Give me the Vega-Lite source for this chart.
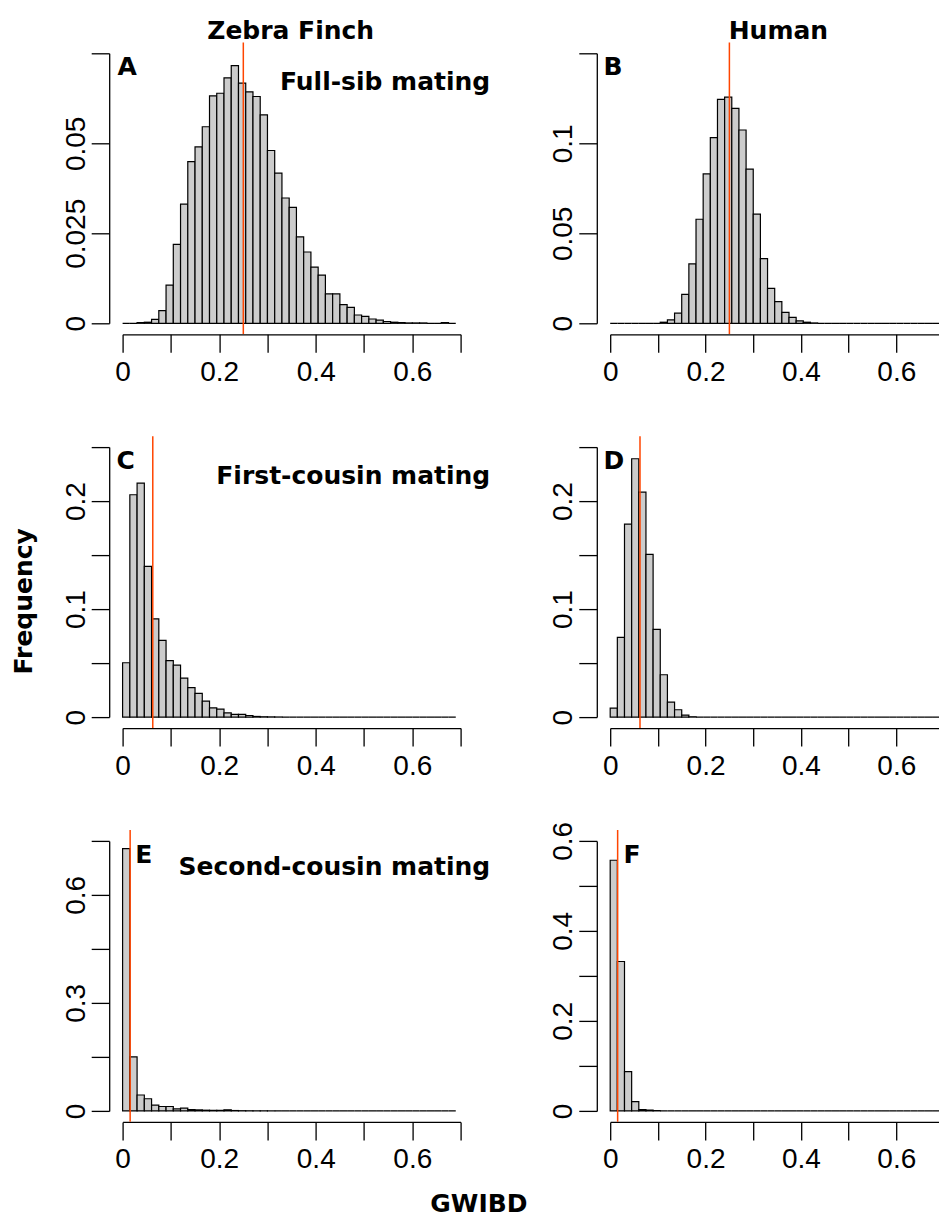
{
"$schema": "https://vega.github.io/schema/vega-lite/v6.json",
"autosize": {"type": "pad"},
"padding": {"left": 11.6, "top": 18.3, "right": 0, "bottom": 0},
"background": "#ffffff",
"config": {
 "view": {"stroke": null},
 "font": "Liberation Sans",
 "text": {"font": "DejaVu Sans", "fontWeight": "bold", "fontSize": 25, "color": "#000000", "baseline": "alphabetic", "clip": false},
 "axis": {"domainColor": "#000000", "domainWidth": 1.3, "tickColor": "#000000", "tickWidth": 1.3, "tickSize": 18, "labelFont": "Liberation Sans", "labelFontSize": 28, "labelColor": "#000000", "labelFlush": false, "labelOverlap": false, "grid": false, "titleFont": "DejaVu Sans", "titleFontSize": 25, "titleFontWeight": "bold", "titleColor": "#000000"},
 "axisX": {"offset": 11, "labelAngle": 0, "labelAlign": "center", "labelBaseline": "alphabetic", "labelPadding": 28},
 "axisY": {"offset": 13.4, "labelAngle": 270, "labelAlign": "center", "labelBaseline": "alphabetic", "labelPadding": 7}
},
"datasets": {
 "labels": [
  {"panel": "A", "species": "Zebra Finch", "letter": "A", "mating": "Full-sib mating", "expected_gwibd": 0.25},
  {"panel": "B", "species": "Human", "letter": "B", "mating": "", "expected_gwibd": 0.25},
  {"panel": "C", "species": "", "letter": "C", "mating": "First-cousin mating", "expected_gwibd": 0.0625},
  {"panel": "D", "species": "", "letter": "D", "mating": "", "expected_gwibd": 0.0625},
  {"panel": "E", "species": "", "letter": "E", "mating": "Second-cousin mating", "expected_gwibd": 0.015625},
  {"panel": "F", "species": "", "letter": "F", "mating": "", "expected_gwibd": 0.015625}
 ],
 "panelA": [
  {"bin_start":0,"bin_end":0.015,"frequency":0},{"bin_start":0.015,"bin_end":0.03,"frequency":0},{"bin_start":0.03,"bin_end":0.045,"frequency":0.0002},{"bin_start":0.045,"bin_end":0.06,"frequency":0.0003},{"bin_start":0.06,"bin_end":0.075,"frequency":0.0011},{"bin_start":0.075,"bin_end":0.09,"frequency":0.0035},{"bin_start":0.09,"bin_end":0.105,"frequency":0.0106},{"bin_start":0.105,"bin_end":0.12,"frequency":0.0219},{"bin_start":0.12,"bin_end":0.135,"frequency":0.0331},{"bin_start":0.135,"bin_end":0.15,"frequency":0.0449},{"bin_start":0.15,"bin_end":0.165,"frequency":0.049},{"bin_start":0.165,"bin_end":0.18,"frequency":0.0546},{"bin_start":0.18,"bin_end":0.195,"frequency":0.0632},{"bin_start":0.195,"bin_end":0.21,"frequency":0.0639},{"bin_start":0.21,"bin_end":0.225,"frequency":0.0682},{"bin_start":0.225,"bin_end":0.24,"frequency":0.0716},{"bin_start":0.24,"bin_end":0.255,"frequency":0.0667},{"bin_start":0.255,"bin_end":0.27,"frequency":0.0643},{"bin_start":0.27,"bin_end":0.285,"frequency":0.063},{"bin_start":0.285,"bin_end":0.3,"frequency":0.0579},{"bin_start":0.3,"bin_end":0.315,"frequency":0.048},{"bin_start":0.315,"bin_end":0.33,"frequency":0.0417},{"bin_start":0.33,"bin_end":0.345,"frequency":0.0348},{"bin_start":0.345,"bin_end":0.36,"frequency":0.0322},{"bin_start":0.36,"bin_end":0.375,"frequency":0.024},{"bin_start":0.375,"bin_end":0.39,"frequency":0.0198},{"bin_start":0.39,"bin_end":0.405,"frequency":0.0156},{"bin_start":0.405,"bin_end":0.42,"frequency":0.0134},{"bin_start":0.42,"bin_end":0.435,"frequency":0.0082},{"bin_start":0.435,"bin_end":0.45,"frequency":0.0082},{"bin_start":0.45,"bin_end":0.465,"frequency":0.0052},{"bin_start":0.465,"bin_end":0.48,"frequency":0.0044},{"bin_start":0.48,"bin_end":0.495,"frequency":0.0023},{"bin_start":0.495,"bin_end":0.51,"frequency":0.0019},{"bin_start":0.51,"bin_end":0.525,"frequency":0.0012},{"bin_start":0.525,"bin_end":0.54,"frequency":0.0009},{"bin_start":0.54,"bin_end":0.555,"frequency":0.0005},{"bin_start":0.555,"bin_end":0.57,"frequency":0.0003},{"bin_start":0.57,"bin_end":0.585,"frequency":0.0002},{"bin_start":0.585,"bin_end":0.6,"frequency":0.0001},{"bin_start":0.6,"bin_end":0.615,"frequency":0.0001},{"bin_start":0.615,"bin_end":0.63,"frequency":0.0001},{"bin_start":0.63,"bin_end":0.645,"frequency":0},{"bin_start":0.645,"bin_end":0.66,"frequency":0},{"bin_start":0.66,"bin_end":0.675,"frequency":0.0002},{"bin_start":0.675,"bin_end":0.69,"frequency":0}
 ],
 "panelB": [
  {"bin_start":0,"bin_end":0.015,"frequency":0},{"bin_start":0.015,"bin_end":0.03,"frequency":0},{"bin_start":0.03,"bin_end":0.045,"frequency":0},{"bin_start":0.045,"bin_end":0.06,"frequency":0},{"bin_start":0.06,"bin_end":0.075,"frequency":0},{"bin_start":0.075,"bin_end":0.09,"frequency":0},{"bin_start":0.09,"bin_end":0.105,"frequency":0},{"bin_start":0.105,"bin_end":0.12,"frequency":0.0006},{"bin_start":0.12,"bin_end":0.135,"frequency":0.0019},{"bin_start":0.135,"bin_end":0.15,"frequency":0.0056},{"bin_start":0.15,"bin_end":0.165,"frequency":0.0161},{"bin_start":0.165,"bin_end":0.18,"frequency":0.033},{"bin_start":0.18,"bin_end":0.195,"frequency":0.0578},{"bin_start":0.195,"bin_end":0.21,"frequency":0.083},{"bin_start":0.21,"bin_end":0.225,"frequency":0.1031},{"bin_start":0.225,"bin_end":0.24,"frequency":0.1244},{"bin_start":0.24,"bin_end":0.255,"frequency":0.1256},{"bin_start":0.255,"bin_end":0.27,"frequency":0.1194},{"bin_start":0.27,"bin_end":0.285,"frequency":0.1074},{"bin_start":0.285,"bin_end":0.3,"frequency":0.0857},{"bin_start":0.3,"bin_end":0.315,"frequency":0.0606},{"bin_start":0.315,"bin_end":0.33,"frequency":0.0359},{"bin_start":0.33,"bin_end":0.345,"frequency":0.0194},{"bin_start":0.345,"bin_end":0.36,"frequency":0.012},{"bin_start":0.36,"bin_end":0.375,"frequency":0.0061},{"bin_start":0.375,"bin_end":0.39,"frequency":0.0033},{"bin_start":0.39,"bin_end":0.405,"frequency":0.0013},{"bin_start":0.405,"bin_end":0.42,"frequency":0.0006},{"bin_start":0.42,"bin_end":0.435,"frequency":0.0002},{"bin_start":0.435,"bin_end":0.45,"frequency":0},{"bin_start":0.45,"bin_end":0.465,"frequency":0},{"bin_start":0.465,"bin_end":0.48,"frequency":0},{"bin_start":0.48,"bin_end":0.495,"frequency":0},{"bin_start":0.495,"bin_end":0.51,"frequency":0},{"bin_start":0.51,"bin_end":0.525,"frequency":0},{"bin_start":0.525,"bin_end":0.54,"frequency":0},{"bin_start":0.54,"bin_end":0.555,"frequency":0},{"bin_start":0.555,"bin_end":0.57,"frequency":0},{"bin_start":0.57,"bin_end":0.585,"frequency":0},{"bin_start":0.585,"bin_end":0.6,"frequency":0},{"bin_start":0.6,"bin_end":0.615,"frequency":0},{"bin_start":0.615,"bin_end":0.63,"frequency":0},{"bin_start":0.63,"bin_end":0.645,"frequency":0},{"bin_start":0.645,"bin_end":0.66,"frequency":0},{"bin_start":0.66,"bin_end":0.675,"frequency":0},{"bin_start":0.675,"bin_end":0.69,"frequency":0}
 ],
 "panelC": [
  {"bin_start":0,"bin_end":0.015,"frequency":0.0503},{"bin_start":0.015,"bin_end":0.03,"frequency":0.2059},{"bin_start":0.03,"bin_end":0.045,"frequency":0.2167},{"bin_start":0.045,"bin_end":0.06,"frequency":0.1395},{"bin_start":0.06,"bin_end":0.075,"frequency":0.091},{"bin_start":0.075,"bin_end":0.09,"frequency":0.071},{"bin_start":0.09,"bin_end":0.105,"frequency":0.0522},{"bin_start":0.105,"bin_end":0.12,"frequency":0.0481},{"bin_start":0.12,"bin_end":0.135,"frequency":0.0361},{"bin_start":0.135,"bin_end":0.15,"frequency":0.0272},{"bin_start":0.15,"bin_end":0.165,"frequency":0.0219},{"bin_start":0.165,"bin_end":0.18,"frequency":0.0148},{"bin_start":0.18,"bin_end":0.195,"frequency":0.0086},{"bin_start":0.195,"bin_end":0.21,"frequency":0.0074},{"bin_start":0.21,"bin_end":0.225,"frequency":0.004},{"bin_start":0.225,"bin_end":0.24,"frequency":0.0025},{"bin_start":0.24,"bin_end":0.255,"frequency":0.0025},{"bin_start":0.255,"bin_end":0.27,"frequency":0.0015},{"bin_start":0.27,"bin_end":0.285,"frequency":0.0006},{"bin_start":0.285,"bin_end":0.3,"frequency":0.0003},{"bin_start":0.3,"bin_end":0.315,"frequency":0.0002},{"bin_start":0.315,"bin_end":0.33,"frequency":0.0001},{"bin_start":0.33,"bin_end":0.345,"frequency":0},{"bin_start":0.345,"bin_end":0.36,"frequency":0},{"bin_start":0.36,"bin_end":0.375,"frequency":0},{"bin_start":0.375,"bin_end":0.39,"frequency":0},{"bin_start":0.39,"bin_end":0.405,"frequency":0},{"bin_start":0.405,"bin_end":0.42,"frequency":0},{"bin_start":0.42,"bin_end":0.435,"frequency":0},{"bin_start":0.435,"bin_end":0.45,"frequency":0},{"bin_start":0.45,"bin_end":0.465,"frequency":0},{"bin_start":0.465,"bin_end":0.48,"frequency":0},{"bin_start":0.48,"bin_end":0.495,"frequency":0},{"bin_start":0.495,"bin_end":0.51,"frequency":0},{"bin_start":0.51,"bin_end":0.525,"frequency":0},{"bin_start":0.525,"bin_end":0.54,"frequency":0},{"bin_start":0.54,"bin_end":0.555,"frequency":0},{"bin_start":0.555,"bin_end":0.57,"frequency":0},{"bin_start":0.57,"bin_end":0.585,"frequency":0},{"bin_start":0.585,"bin_end":0.6,"frequency":0},{"bin_start":0.6,"bin_end":0.615,"frequency":0},{"bin_start":0.615,"bin_end":0.63,"frequency":0},{"bin_start":0.63,"bin_end":0.645,"frequency":0},{"bin_start":0.645,"bin_end":0.66,"frequency":0},{"bin_start":0.66,"bin_end":0.675,"frequency":0},{"bin_start":0.675,"bin_end":0.69,"frequency":0}
 ],
 "panelD": [
  {"bin_start":0,"bin_end":0.015,"frequency":0.0083},{"bin_start":0.015,"bin_end":0.03,"frequency":0.0738},{"bin_start":0.03,"bin_end":0.045,"frequency":0.1787},{"bin_start":0.045,"bin_end":0.06,"frequency":0.2392},{"bin_start":0.06,"bin_end":0.075,"frequency":0.2083},{"bin_start":0.075,"bin_end":0.09,"frequency":0.1506},{"bin_start":0.09,"bin_end":0.105,"frequency":0.0812},{"bin_start":0.105,"bin_end":0.12,"frequency":0.0392},{"bin_start":0.12,"bin_end":0.135,"frequency":0.0139},{"bin_start":0.135,"bin_end":0.15,"frequency":0.0068},{"bin_start":0.15,"bin_end":0.165,"frequency":0.0019},{"bin_start":0.165,"bin_end":0.18,"frequency":0.0003},{"bin_start":0.18,"bin_end":0.195,"frequency":0},{"bin_start":0.195,"bin_end":0.21,"frequency":0},{"bin_start":0.21,"bin_end":0.225,"frequency":0},{"bin_start":0.225,"bin_end":0.24,"frequency":0},{"bin_start":0.24,"bin_end":0.255,"frequency":0},{"bin_start":0.255,"bin_end":0.27,"frequency":0},{"bin_start":0.27,"bin_end":0.285,"frequency":0},{"bin_start":0.285,"bin_end":0.3,"frequency":0},{"bin_start":0.3,"bin_end":0.315,"frequency":0},{"bin_start":0.315,"bin_end":0.33,"frequency":0},{"bin_start":0.33,"bin_end":0.345,"frequency":0},{"bin_start":0.345,"bin_end":0.36,"frequency":0},{"bin_start":0.36,"bin_end":0.375,"frequency":0},{"bin_start":0.375,"bin_end":0.39,"frequency":0},{"bin_start":0.39,"bin_end":0.405,"frequency":0},{"bin_start":0.405,"bin_end":0.42,"frequency":0},{"bin_start":0.42,"bin_end":0.435,"frequency":0},{"bin_start":0.435,"bin_end":0.45,"frequency":0},{"bin_start":0.45,"bin_end":0.465,"frequency":0},{"bin_start":0.465,"bin_end":0.48,"frequency":0},{"bin_start":0.48,"bin_end":0.495,"frequency":0},{"bin_start":0.495,"bin_end":0.51,"frequency":0},{"bin_start":0.51,"bin_end":0.525,"frequency":0},{"bin_start":0.525,"bin_end":0.54,"frequency":0},{"bin_start":0.54,"bin_end":0.555,"frequency":0},{"bin_start":0.555,"bin_end":0.57,"frequency":0},{"bin_start":0.57,"bin_end":0.585,"frequency":0},{"bin_start":0.585,"bin_end":0.6,"frequency":0},{"bin_start":0.6,"bin_end":0.615,"frequency":0},{"bin_start":0.615,"bin_end":0.63,"frequency":0},{"bin_start":0.63,"bin_end":0.645,"frequency":0},{"bin_start":0.645,"bin_end":0.66,"frequency":0},{"bin_start":0.66,"bin_end":0.675,"frequency":0},{"bin_start":0.675,"bin_end":0.69,"frequency":0}
 ],
 "panelE": [
  {"bin_start":0,"bin_end":0.015,"frequency":0.7284},{"bin_start":0.015,"bin_end":0.03,"frequency":0.15},{"bin_start":0.03,"bin_end":0.045,"frequency":0.0441},{"bin_start":0.045,"bin_end":0.06,"frequency":0.0338},{"bin_start":0.06,"bin_end":0.075,"frequency":0.0159},{"bin_start":0.075,"bin_end":0.09,"frequency":0.0122},{"bin_start":0.09,"bin_end":0.105,"frequency":0.0122},{"bin_start":0.105,"bin_end":0.12,"frequency":0.0056},{"bin_start":0.12,"bin_end":0.135,"frequency":0.0075},{"bin_start":0.135,"bin_end":0.15,"frequency":0.0038},{"bin_start":0.15,"bin_end":0.165,"frequency":0.0028},{"bin_start":0.165,"bin_end":0.18,"frequency":0.0019},{"bin_start":0.18,"bin_end":0.195,"frequency":0.0015},{"bin_start":0.195,"bin_end":0.21,"frequency":0.0015},{"bin_start":0.21,"bin_end":0.225,"frequency":0.003},{"bin_start":0.225,"bin_end":0.24,"frequency":0.001},{"bin_start":0.24,"bin_end":0.255,"frequency":0.0005},{"bin_start":0.255,"bin_end":0.27,"frequency":0.0003},{"bin_start":0.27,"bin_end":0.285,"frequency":0.0002},{"bin_start":0.285,"bin_end":0.3,"frequency":0.0002},{"bin_start":0.3,"bin_end":0.315,"frequency":0.0001},{"bin_start":0.315,"bin_end":0.33,"frequency":0},{"bin_start":0.33,"bin_end":0.345,"frequency":0},{"bin_start":0.345,"bin_end":0.36,"frequency":0},{"bin_start":0.36,"bin_end":0.375,"frequency":0},{"bin_start":0.375,"bin_end":0.39,"frequency":0},{"bin_start":0.39,"bin_end":0.405,"frequency":0},{"bin_start":0.405,"bin_end":0.42,"frequency":0},{"bin_start":0.42,"bin_end":0.435,"frequency":0},{"bin_start":0.435,"bin_end":0.45,"frequency":0},{"bin_start":0.45,"bin_end":0.465,"frequency":0},{"bin_start":0.465,"bin_end":0.48,"frequency":0},{"bin_start":0.48,"bin_end":0.495,"frequency":0},{"bin_start":0.495,"bin_end":0.51,"frequency":0},{"bin_start":0.51,"bin_end":0.525,"frequency":0},{"bin_start":0.525,"bin_end":0.54,"frequency":0},{"bin_start":0.54,"bin_end":0.555,"frequency":0},{"bin_start":0.555,"bin_end":0.57,"frequency":0},{"bin_start":0.57,"bin_end":0.585,"frequency":0},{"bin_start":0.585,"bin_end":0.6,"frequency":0},{"bin_start":0.6,"bin_end":0.615,"frequency":0},{"bin_start":0.615,"bin_end":0.63,"frequency":0},{"bin_start":0.63,"bin_end":0.645,"frequency":0},{"bin_start":0.645,"bin_end":0.66,"frequency":0},{"bin_start":0.66,"bin_end":0.675,"frequency":0},{"bin_start":0.675,"bin_end":0.69,"frequency":0}
 ],
 "panelF": [
  {"bin_start":0,"bin_end":0.015,"frequency":0.557},{"bin_start":0.015,"bin_end":0.03,"frequency":0.332},{"bin_start":0.03,"bin_end":0.045,"frequency":0.0874},{"bin_start":0.045,"bin_end":0.06,"frequency":0.0207},{"bin_start":0.06,"bin_end":0.075,"frequency":0.003},{"bin_start":0.075,"bin_end":0.09,"frequency":0.0015},{"bin_start":0.09,"bin_end":0.105,"frequency":0.0005},{"bin_start":0.105,"bin_end":0.12,"frequency":0},{"bin_start":0.12,"bin_end":0.135,"frequency":0},{"bin_start":0.135,"bin_end":0.15,"frequency":0},{"bin_start":0.15,"bin_end":0.165,"frequency":0},{"bin_start":0.165,"bin_end":0.18,"frequency":0},{"bin_start":0.18,"bin_end":0.195,"frequency":0},{"bin_start":0.195,"bin_end":0.21,"frequency":0},{"bin_start":0.21,"bin_end":0.225,"frequency":0},{"bin_start":0.225,"bin_end":0.24,"frequency":0},{"bin_start":0.24,"bin_end":0.255,"frequency":0},{"bin_start":0.255,"bin_end":0.27,"frequency":0},{"bin_start":0.27,"bin_end":0.285,"frequency":0},{"bin_start":0.285,"bin_end":0.3,"frequency":0},{"bin_start":0.3,"bin_end":0.315,"frequency":0},{"bin_start":0.315,"bin_end":0.33,"frequency":0},{"bin_start":0.33,"bin_end":0.345,"frequency":0},{"bin_start":0.345,"bin_end":0.36,"frequency":0},{"bin_start":0.36,"bin_end":0.375,"frequency":0},{"bin_start":0.375,"bin_end":0.39,"frequency":0},{"bin_start":0.39,"bin_end":0.405,"frequency":0},{"bin_start":0.405,"bin_end":0.42,"frequency":0},{"bin_start":0.42,"bin_end":0.435,"frequency":0},{"bin_start":0.435,"bin_end":0.45,"frequency":0},{"bin_start":0.45,"bin_end":0.465,"frequency":0},{"bin_start":0.465,"bin_end":0.48,"frequency":0},{"bin_start":0.48,"bin_end":0.495,"frequency":0},{"bin_start":0.495,"bin_end":0.51,"frequency":0},{"bin_start":0.51,"bin_end":0.525,"frequency":0},{"bin_start":0.525,"bin_end":0.54,"frequency":0},{"bin_start":0.54,"bin_end":0.555,"frequency":0},{"bin_start":0.555,"bin_end":0.57,"frequency":0},{"bin_start":0.57,"bin_end":0.585,"frequency":0},{"bin_start":0.585,"bin_end":0.6,"frequency":0},{"bin_start":0.6,"bin_end":0.615,"frequency":0},{"bin_start":0.615,"bin_end":0.63,"frequency":0},{"bin_start":0.63,"bin_end":0.645,"frequency":0},{"bin_start":0.645,"bin_end":0.66,"frequency":0},{"bin_start":0.66,"bin_end":0.675,"frequency":0},{"bin_start":0.675,"bin_end":0.69,"frequency":0}
 ]
},
"columns": 2,
"spacing": {"row": 123.8, "column": 149.6},
"bounds": "flush",
"concat": [
  {"width": 338, "height": 270,
   "layer": [
    {"data": {"name": "panelA"},
     "mark": {"type": "rect", "fill": "#cccccc", "stroke": "#000000", "strokeWidth": 1.2},
     "encoding": {
      "x": {"field": "bin_start", "type": "quantitative", "scale": {"domain": [0, 0.7], "nice": false, "zero": false}, "axis": {"values": [0,0.1,0.2,0.3,0.4,0.5,0.6,0.7], "labelExpr": "round(datum.value*10) % 2 == 0 ? format(datum.value, '~g') : ''", "title": null}},
      "x2": {"field": "bin_end"},
      "y": {"field": "frequency", "type": "quantitative", "scale": {"domain": [0, 0.075], "nice": false, "zero": false}, "axis": {"values": [0,0.025,0.05,0.075], "labelExpr": "datum.value < 0.07 ? format(datum.value, '~g') : ''", "title": null}},
      "y2": {"datum": 0}}},
    {"data": {"name": "labels"}, "transform": [{"filter": "datum.panel == 'A'"}],
     "mark": {"type": "rule", "color": "#ff4500", "strokeWidth": 1.5, "clip": false},
     "encoding": {"x": {"field": "expected_gwibd", "type": "quantitative"}, "y": {"datum": -0.003}, "y2": {"datum": 0.078}}},
    {"data": {"name": "labels"}, "transform": [{"filter": "datum.panel == 'A'"}],
     "mark": {"type": "text", "align": "center", "dx": -0.9, "dy": -14.7},
     "encoding": {"x": {"datum": 0.35}, "y": {"datum": 0.075}, "text": {"field": "species"}}},
    {"data": {"name": "labels"}, "transform": [{"filter": "datum.panel == 'A'"}],
     "mark": {"type": "text", "align": "left", "dx": -5, "dy": 22},
     "encoding": {"x": {"datum": 0}, "y": {"datum": 0.075}, "text": {"field": "letter"}}},
    {"data": {"name": "labels"}, "transform": [{"filter": "datum.panel == 'A'"}],
     "mark": {"type": "text", "align": "right", "dx": 29.6, "dy": 36.3},
     "encoding": {"x": {"datum": 0.7}, "y": {"datum": 0.075}, "text": {"field": "mating"}}}
   ]},
  {"width": 329, "height": 270,
   "layer": [
    {"data": {"name": "panelB"},
     "mark": {"type": "rect", "fill": "#cccccc", "stroke": "#000000", "strokeWidth": 1.2},
     "encoding": {
      "x": {"field": "bin_start", "type": "quantitative", "scale": {"domain": [0, 0.69], "nice": false, "zero": false}, "axis": {"values": [0,0.1,0.2,0.3,0.4,0.5,0.6], "labelExpr": "round(datum.value*10) % 2 == 0 ? format(datum.value, '~g') : ''", "title": null}},
      "x2": {"field": "bin_end"},
      "y": {"field": "frequency", "type": "quantitative", "scale": {"domain": [0, 0.15], "nice": false, "zero": false}, "axis": {"values": [0,0.05,0.1,0.15], "labelExpr": "datum.value < 0.12 ? format(datum.value, '~g') : ''", "title": null}},
      "y2": {"datum": 0}}},
    {"data": {"name": "labels"}, "transform": [{"filter": "datum.panel == 'B'"}],
     "mark": {"type": "rule", "color": "#ff4500", "strokeWidth": 1.5, "clip": false},
     "encoding": {"x": {"field": "expected_gwibd", "type": "quantitative"}, "y": {"datum": -0.006}, "y2": {"datum": 0.156}}},
    {"data": {"name": "labels"}, "transform": [{"filter": "datum.panel == 'B'"}],
     "mark": {"type": "text", "align": "center", "dx": 3.7, "dy": -14.7},
     "encoding": {"x": {"datum": 0.345}, "y": {"datum": 0.15}, "text": {"field": "species"}}},
    {"data": {"name": "labels"}, "transform": [{"filter": "datum.panel == 'B'"}],
     "mark": {"type": "text", "align": "left", "dx": -6.6, "dy": 22},
     "encoding": {"x": {"datum": 0}, "y": {"datum": 0.15}, "text": {"field": "letter"}}}
   ]},
  {"width": 338, "height": 270,
   "layer": [
    {"data": {"name": "panelC"},
     "mark": {"type": "rect", "fill": "#cccccc", "stroke": "#000000", "strokeWidth": 1.2},
     "encoding": {
      "x": {"field": "bin_start", "type": "quantitative", "scale": {"domain": [0, 0.7], "nice": false, "zero": false}, "axis": {"values": [0,0.1,0.2,0.3,0.4,0.5,0.6,0.7], "labelExpr": "round(datum.value*10) % 2 == 0 ? format(datum.value, '~g') : ''", "title": null}},
      "x2": {"field": "bin_end"},
      "y": {"field": "frequency", "type": "quantitative", "scale": {"domain": [0, 0.25], "nice": false, "zero": false}, "axis": {"values": [0,0.05,0.1,0.15,0.2,0.25], "labelExpr": "round(datum.value*20) % 2 == 0 ? format(datum.value, '~g') : ''", "title": "Frequency", "titleX": -77.5, "titleY": 153.7, "titleAngle": 270, "titleAlign": "center", "titleBaseline": "alphabetic"}},
      "y2": {"datum": 0}}},
    {"data": {"name": "labels"}, "transform": [{"filter": "datum.panel == 'C'"}],
     "mark": {"type": "rule", "color": "#ff4500", "strokeWidth": 1.5, "clip": false},
     "encoding": {"x": {"field": "expected_gwibd", "type": "quantitative"}, "y": {"datum": -0.01}, "y2": {"datum": 0.26}}},
    {"data": {"name": "labels"}, "transform": [{"filter": "datum.panel == 'C'"}],
     "mark": {"type": "text", "align": "left", "dx": -6.2, "dy": 22},
     "encoding": {"x": {"datum": 0}, "y": {"datum": 0.25}, "text": {"field": "letter"}}},
    {"data": {"name": "labels"}, "transform": [{"filter": "datum.panel == 'C'"}],
     "mark": {"type": "text", "align": "right", "dx": 29.6, "dy": 36.5},
     "encoding": {"x": {"datum": 0.7}, "y": {"datum": 0.25}, "text": {"field": "mating"}}}
   ]},
  {"width": 329, "height": 270,
   "layer": [
    {"data": {"name": "panelD"},
     "mark": {"type": "rect", "fill": "#cccccc", "stroke": "#000000", "strokeWidth": 1.2},
     "encoding": {
      "x": {"field": "bin_start", "type": "quantitative", "scale": {"domain": [0, 0.69], "nice": false, "zero": false}, "axis": {"values": [0,0.1,0.2,0.3,0.4,0.5,0.6], "labelExpr": "round(datum.value*10) % 2 == 0 ? format(datum.value, '~g') : ''", "title": null}},
      "x2": {"field": "bin_end"},
      "y": {"field": "frequency", "type": "quantitative", "scale": {"domain": [0, 0.25], "nice": false, "zero": false}, "axis": {"values": [0,0.05,0.1,0.15,0.2,0.25], "labelExpr": "round(datum.value*20) % 2 == 0 ? format(datum.value, '~g') : ''", "title": null}},
      "y2": {"datum": 0}}},
    {"data": {"name": "labels"}, "transform": [{"filter": "datum.panel == 'D'"}],
     "mark": {"type": "rule", "color": "#ff4500", "strokeWidth": 1.5, "clip": false},
     "encoding": {"x": {"field": "expected_gwibd", "type": "quantitative"}, "y": {"datum": -0.01}, "y2": {"datum": 0.26}}},
    {"data": {"name": "labels"}, "transform": [{"filter": "datum.panel == 'D'"}],
     "mark": {"type": "text", "align": "left", "dx": -6.6, "dy": 22},
     "encoding": {"x": {"datum": 0}, "y": {"datum": 0.25}, "text": {"field": "letter"}}}
   ]},
  {"width": 338, "height": 270,
   "layer": [
    {"data": {"name": "panelE"},
     "mark": {"type": "rect", "fill": "#cccccc", "stroke": "#000000", "strokeWidth": 1.2},
     "encoding": {
      "x": {"field": "bin_start", "type": "quantitative", "scale": {"domain": [0, 0.7], "nice": false, "zero": false}, "axis": {"values": [0,0.1,0.2,0.3,0.4,0.5,0.6,0.7], "labelExpr": "round(datum.value*10) % 2 == 0 ? format(datum.value, '~g') : ''", "title": "GWIBD", "titleX": 355.8, "titleY": 90, "titleAngle": 0, "titleAlign": "center", "titleBaseline": "alphabetic"}},
      "x2": {"field": "bin_end"},
      "y": {"field": "frequency", "type": "quantitative", "scale": {"domain": [0, 0.75], "nice": false, "zero": false}, "axis": {"values": [0,0.15,0.3,0.45,0.6,0.75], "labelExpr": "round(datum.value/0.15) % 2 == 0 ? format(datum.value, '~g') : ''", "title": null}},
      "y2": {"datum": 0}}},
    {"data": {"name": "labels"}, "transform": [{"filter": "datum.panel == 'E'"}],
     "mark": {"type": "rule", "color": "#ff4500", "strokeWidth": 1.5, "clip": false},
     "encoding": {"x": {"field": "expected_gwibd", "type": "quantitative"}, "y": {"datum": -0.03}, "y2": {"datum": 0.78}}},
    {"data": {"name": "labels"}, "transform": [{"filter": "datum.panel == 'E'"}],
     "mark": {"type": "text", "align": "left", "dx": 12.7, "dy": 22},
     "encoding": {"x": {"datum": 0}, "y": {"datum": 0.75}, "text": {"field": "letter"}}},
    {"data": {"name": "labels"}, "transform": [{"filter": "datum.panel == 'E'"}],
     "mark": {"type": "text", "align": "right", "dx": 29.6, "dy": 34.4},
     "encoding": {"x": {"datum": 0.7}, "y": {"datum": 0.75}, "text": {"field": "mating"}}}
   ]},
  {"width": 329, "height": 270,
   "layer": [
    {"data": {"name": "panelF"},
     "mark": {"type": "rect", "fill": "#cccccc", "stroke": "#000000", "strokeWidth": 1.2},
     "encoding": {
      "x": {"field": "bin_start", "type": "quantitative", "scale": {"domain": [0, 0.69], "nice": false, "zero": false}, "axis": {"values": [0,0.1,0.2,0.3,0.4,0.5,0.6], "labelExpr": "round(datum.value*10) % 2 == 0 ? format(datum.value, '~g') : ''", "title": null}},
      "x2": {"field": "bin_end"},
      "y": {"field": "frequency", "type": "quantitative", "scale": {"domain": [0, 0.6], "nice": false, "zero": false}, "axis": {"values": [0,0.1,0.2,0.3,0.4,0.5,0.6], "labelExpr": "round(datum.value*10) % 2 == 0 ? format(datum.value, '~g') : ''", "title": null}},
      "y2": {"datum": 0}}},
    {"data": {"name": "labels"}, "transform": [{"filter": "datum.panel == 'F'"}],
     "mark": {"type": "rule", "color": "#ff4500", "strokeWidth": 1.5, "clip": false},
     "encoding": {"x": {"field": "expected_gwibd", "type": "quantitative"}, "y": {"datum": -0.024}, "y2": {"datum": 0.624}}},
    {"data": {"name": "labels"}, "transform": [{"filter": "datum.panel == 'F'"}],
     "mark": {"type": "text", "align": "left", "dx": 13.4, "dy": 22},
     "encoding": {"x": {"datum": 0}, "y": {"datum": 0.6}, "text": {"field": "letter"}}}
   ]}
]
}
